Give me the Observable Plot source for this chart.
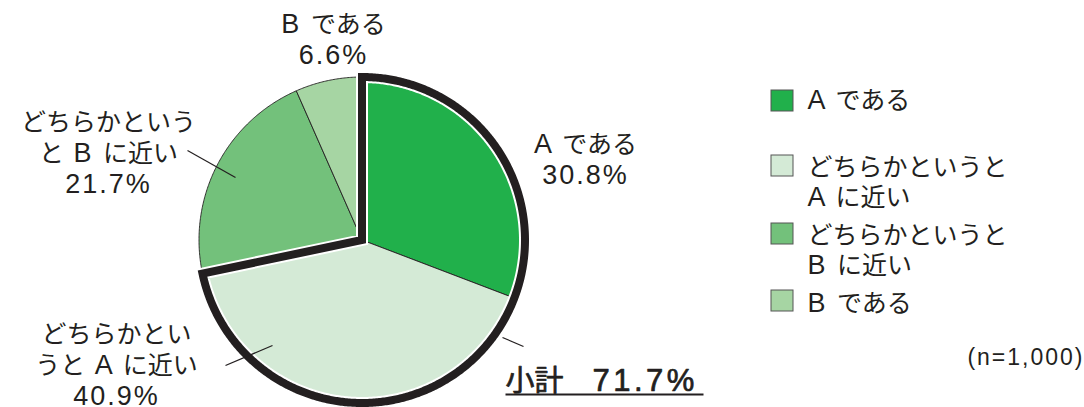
<!DOCTYPE html>
<html><head><meta charset="utf-8">
<script src="https://cdn.jsdelivr.net/npm/d3@7"></script>
<script src="https://cdn.jsdelivr.net/npm/@observablehq/plot@0.6"></script>
<style>
html,body{margin:0;padding:0;background:#fff;}
#chart svg{display:block;}
</style></head><body><div id="chart"></div>
<script>
// ---- data ----
const categories = ["A である", "どちらかというとA に近い", "どちらかというとB に近い", "B である"];
const values = [30.8, 40.9, 21.7, 6.6];
const colors = ["#21b04b", "#d4ead6", "#73c17b", "#a6d5a3"];
const pieLabels = ["A である", "どちらかとい\nうと A に近い", "どちらかという\nと B に近い", "B である"];
const legendLabels = ["A である", "どちらかというと\nA に近い", "どちらかというと\nB に近い", "B である"];
const subtotalMembers = [0, 1];
const subtotalLabel = "小計";
const sampleNote = "(n=1,000)";

// ---- layout ----
const W = 1084, H = 407;
const cx = 361.5, cy = 239.5, R = 163;
const ink = "#231f20";
const jpFont = "'Noto Sans CJK JP', 'Noto Sans', sans-serif";

const total = d3.sum(values);
let acc = 0;
const slices = values.map((v, i) => {
  const a0 = acc / total * 360; acc += v; const a1 = acc / total * 360;
  return {i, a0, a1};
});
function pt(a, r) { const t = a * Math.PI / 180; return {x: cx + r * Math.sin(t), y: cy - r * Math.cos(t)}; }
function arc(a0, a1) {
  const n = Math.max(2, Math.ceil(Math.abs(a1 - a0) / 0.5)), out = [];
  for (let k = 0; k <= n; k++) out.push(pt(a0 + (a1 - a0) * k / n, R));
  return out;
}
function wedge(a0, a1) { return [pt(0, 0), ...arc(a0, a1), pt(0, 0)]; }

const gStart = slices[subtotalMembers[0]].a0;
const gEnd = slices[subtotalMembers[subtotalMembers.length - 1]].a1;
const gMid = (gStart + gEnd) / 2;
const outline = [...arc(gMid, gEnd), pt(0, 0), ...arc(gStart, gMid)];
const subtotalValue = d3.sum(subtotalMembers, i => values[i]);

const labelPos = [{x: 585, y: 183}, {x: 116, y: 404}, {x: 108, y: 192}, {x: 333, y: 63}];
const pieText = slices.map(s => ({...labelPos[s.i], text: pieLabels[s.i] + "\n" + values[s.i].toFixed(1) + "%"}));
const leaders = [
  {x1: 272, y1: 345, x2: 225, y2: 365},
  {x1: 235, y1: 177, x2: 187, y2: 150},
  {x1: 502, y1: 337, x2: 523, y2: 346}
];
const legendTop = [90, 155, 223, 290];
const legendBase = [108, 205, 273, 311];
const legendRows = categories.map((c, i) => ({
  x1: 771, x2: 793, y1: legendTop[i], y2: legendTop[i] + 21, color: colors[i],
  tx: 807, ty: legendBase[i], text: legendLabels[i]
}));

const marks = [];
slices.forEach(s => marks.push(Plot.line(wedge(s.a0, s.a1), {
  x: "x", y: "y", fill: colors[s.i], stroke: ink, strokeWidth: 0.9, strokeLinejoin: "round"
})));
marks.push(Plot.line(outline, {x: "x", y: "y", stroke: "#fff", strokeWidth: 12, strokeLinejoin: "miter", strokeMiterlimit: 10}));
marks.push(Plot.line(outline, {x: "x", y: "y", stroke: ink, strokeWidth: 8, strokeLinejoin: "miter", strokeMiterlimit: 10}));
marks.push(Plot.link(leaders, {x1: "x1", y1: "y1", x2: "x2", y2: "y2", stroke: ink, strokeWidth: 1.2}));
marks.push(Plot.text(pieText, {x: "x", y: "y", text: "text", textAnchor: "middle", lineAnchor: "bottom",
  lineHeight: 1.24, fontSize: 25, fill: ink, fontFamily: jpFont}));
marks.push(Plot.text([{x: 505, y: 390, text: subtotalLabel + "　" + subtotalValue.toFixed(1) + "%"}], {
  x: "x", y: "y", text: "text", textAnchor: "start", lineAnchor: "bottom", fontSize: 29, fill: ink,
  stroke: ink, strokeWidth: 0.7, fontFamily: jpFont}));
marks.push(Plot.link([{x1: 505, x2: 703, y: 394}], {x1: "x1", x2: "x2", y1: "y", y2: "y", stroke: ink, strokeWidth: 2}));
marks.push(Plot.rect(legendRows, {x1: "x1", x2: "x2", y1: "y1", y2: "y2", fill: "color", stroke: "#555", strokeWidth: 1}));
marks.push(Plot.text(legendRows, {x: "tx", y: "ty", text: "text", textAnchor: "start", lineAnchor: "bottom",
  lineHeight: 1.2, fontSize: 25, fill: ink, fontFamily: jpFont}));
marks.push(Plot.text([{x: 1084, y: 364, text: sampleNote}], {x: "x", y: "y", text: "text", textAnchor: "end",
  lineAnchor: "bottom", fontSize: 23, fill: ink, fontFamily: jpFont}));

const chart = Plot.plot({
  width: W, height: H, margin: 0,
  x: {domain: [0, W], range: [0, W], axis: null},
  y: {domain: [0, H], range: [0, H], axis: null},
  color: {type: "identity"},
  style: {background: "#fff", overflow: "visible"},
  marks
});
document.getElementById("chart").appendChild(chart);

// Latin runs: Helvetica-like, slightly larger and tracked
const latinRe = /([A-Za-z0-9.,%=() ]+)/;
const runStyle = {25: [27, 2], 29: [31, 3.5], 23: [23, 2]};
chart.querySelectorAll("text").forEach(el => {
  const fs = Math.round(parseFloat(getComputedStyle(el).fontSize));
  const [ls, sp] = runStyle[fs] || [fs, 2];
  const lines = el.querySelectorAll(":scope > tspan");
  const targets = lines.length ? [...lines] : [el];
  for (const t of targets) {
    const s = t.textContent; t.textContent = "";
    for (const part of s.split(latinRe)) {
      if (!part) continue;
      const span = document.createElementNS("http://www.w3.org/2000/svg", "tspan");
      span.textContent = part;
      if (/^[A-Za-z0-9.,%=() ]+$/.test(part)) {
        span.setAttribute("font-size", ls);
        span.setAttribute("letter-spacing", sp);
        span.setAttribute("font-family", "'Liberation Sans', Arial, sans-serif");
      }
      t.appendChild(span);
    }
  }
});
</script></body></html>
